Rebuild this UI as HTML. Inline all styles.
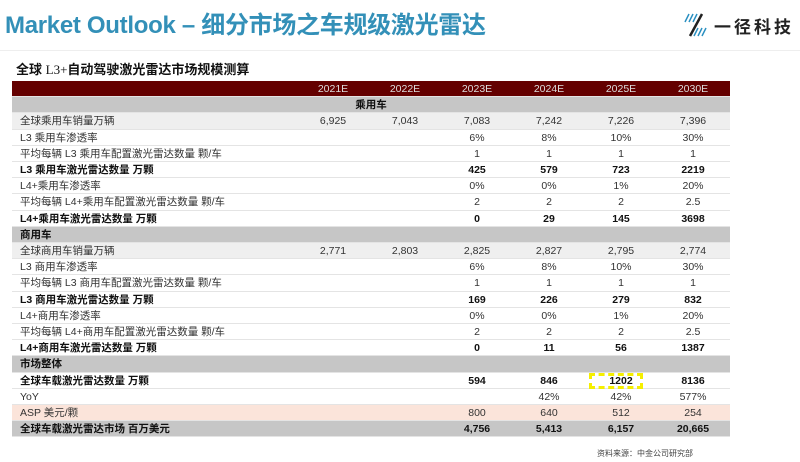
<!DOCTYPE html>
<html><head><meta charset="utf-8"><style>
body{margin:0;width:800px;height:462px;background:#fff;font-family:"Liberation Sans","Noto Sans CJK SC",sans-serif;position:relative;overflow:hidden}
.t{position:absolute;left:5px;top:5px;font-size:24px;font-weight:bold;color:#3390b8;white-space:nowrap;letter-spacing:-0.3px}
.sub{position:absolute;left:16px;top:59px;font-size:13px;font-weight:bold;color:#111}
.logo{position:absolute;left:714px;top:13px;font-size:17px;color:#222;letter-spacing:3px;font-weight:bold;white-space:nowrap}
.r{position:absolute;left:12px;width:718px;height:16.2px;font-size:10.5px;color:#333;line-height:16.2px;border-bottom:1px solid #e4e4e4;box-sizing:border-box}
.r span{position:absolute;top:0;white-space:nowrap}
.r .l{left:8px}
.r .c{width:72px;text-align:center}
.b{font-weight:bold;color:#111}
.h{background:#640000;color:#ddd}
.g{background:#c6c6c6}
.lg{background:#efefef}
.p{background:#fbe4da}
</style></head><body>
<div class="t">Market Outlook – 细分市场之车规级激光雷达</div>
<svg style="position:absolute;left:682px;top:12px" width="30" height="26"><g stroke="#2a8fc0" stroke-width="1.5"><line x1="3" y1="10" x2="7" y2="2"/><line x1="7" y1="10" x2="11" y2="2"/><line x1="11" y1="10" x2="15" y2="2"/><line x1="12" y1="24" x2="16" y2="16"/><line x1="16" y1="24" x2="20" y2="16"/><line x1="20" y1="24" x2="24" y2="16"/></g><line x1="8" y1="24" x2="20" y2="2" stroke="#222" stroke-width="2.5"/></svg>
<div class="logo">一径科技</div>
<div style="position:absolute;left:0;top:50px;width:800px;height:1px;background:#eee"></div>
<div class="sub">全球 <span style="font-family:'Liberation Serif',serif;font-weight:normal">L3+</span>自动驾驶激光雷达市场规模测算</div>
<div id="tb"></div>
<div style="position:absolute;left:597px;top:448px;font-size:8px;color:#444">资料来源：中金公司研究部</div>
<script>
const rows=[
["h","",["2021E","2022E","2023E","2024E","2025E","2030E"]],
["g b ctr","乘用车",[]],
["lg","全球乘用车销量万辆",["6,925","7,043","7,083","7,242","7,226","7,396"]],
["","L3 乘用车渗透率",["","","6%","8%","10%","30%"]],
["","平均每辆 L3 乘用车配置激光雷达数量 颗/车",["","","1","1","1","1"]],
["b","L3 乘用车激光雷达数量 万颗",["","","425","579","723","2219"]],
["","L4+乘用车渗透率",["","","0%","0%","1%","20%"]],
["","平均每辆 L4+乘用车配置激光雷达数量 颗/车",["","","2","2","2","2.5"]],
["b","L4+乘用车激光雷达数量 万颗",["","","0","29","145","3698"]],
["g b","商用车",[]],
["lg","全球商用车销量万辆",["2,771","2,803","2,825","2,827","2,795","2,774"]],
["","L3 商用车渗透率",["","","6%","8%","10%","30%"]],
["","平均每辆 L3 商用车配置激光雷达数量 颗/车",["","","1","1","1","1"]],
["b","L3 商用车激光雷达数量 万颗",["","","169","226","279","832"]],
["","L4+商用车渗透率",["","","0%","0%","1%","20%"]],
["","平均每辆 L4+商用车配置激光雷达数量 颗/车",["","","2","2","2","2.5"]],
["b","L4+商用车激光雷达数量 万颗",["","","0","11","56","1387"]],
["g b","市场整体",[]],
["b","全球车载激光雷达数量 万颗",["","","594","846","1202","8136"]],
["","YoY",["","","","42%","42%","577%"]],
["p","ASP 美元/颗",["","","800","640","512","254"]],
["g b","全球车载激光雷达市场 百万美元",["","","4,756","5,413","6,157","20,665"]]];
let h="";rows.forEach((r,i)=>{const top=81+i*16.2;const cls=r[0].replace("ctr","");
h+=`<div class="r ${cls}" style="top:${top}px">`;
if(r[0].includes("ctr"))h+=`<span style="left:0;width:718px;text-align:center">${r[1]}</span>`;else h+=`<span class="l">${r[1]}</span>`;
r[2].forEach((v,j)=>{h+=`<span class="c" style="left:${285+j*72}px">${v}</span>`});h+="</div>";});
document.getElementById("tb").innerHTML=h;
</script>
<div style="position:absolute;left:589px;top:373px;width:54px;height:16px;border:3px dashed #f5ef00;box-sizing:border-box"></div>
</body></html>
